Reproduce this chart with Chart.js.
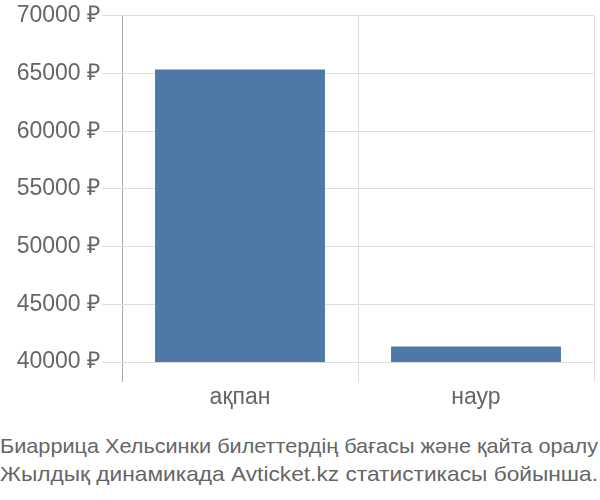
<!DOCTYPE html>
<html>
<head>
<meta charset="utf-8">
<script src="https://cdn.jsdelivr.net/npm/chart.js@4"></script>
<style>
  html, body { margin: 0; padding: 0; background: #fff; }
  #wrap { position: relative; width: 600px; height: 420px; }
  #caption {
    width: 600px;
    overflow: hidden;
    font-family: "Liberation Sans", Arial, sans-serif;
    font-size: 21px;
    line-height: 28px;
    color: #666;
    margin-top: 12px;
  }
  #caption span {
    display: inline-block;
    white-space: nowrap;
    transform-origin: 0 0;
  }
</style>
</head>
<body>
<div id="wrap"><canvas id="priceChart"></canvas></div>
<div id="caption">
  <span>Биаррица Хельсинки билеттердің бағасы және қайта оралу</span><br>
  <span>Жылдық динамикада Avticket.kz статистикасы бойынша.</span>
</div>
<script>
const months = ["ақпан", "наур"];
const prices = [65350, 41350];
const yTicks = [40000, 45000, 50000, 55000, 60000, 65000, 70000];

// stretch each caption line to the full width, like the original
document.querySelectorAll("#caption span").forEach(s => {
    const w = s.getBoundingClientRect().width;
    s.style.transform = "scaleX(" + (598 / w) + ")";
});

const ctx = document.getElementById("priceChart").getContext("2d");

new Chart(ctx, {
    type: "bar",
    data: {
        labels: months,
        datasets: [{
            data: prices,
            backgroundColor: "#4e79a7",
            borderWidth: 0,
            barPercentage: 0.72,
            categoryPercentage: 1
        }]
    },
    options: {
        responsive: true,
        maintainAspectRatio: false,
        animation: false,
        layout: { padding: { top: 14, right: 6, left: 0, bottom: 0 } },
        plugins: {
            legend: { display: false },
            tooltip: { enabled: false }
        },
        scales: {
            x: {
                offset: true,
                grid: {
                    offset: true,
                    tickLength: 20,
                    color: (c) => c.index === 0 ? "#aaa" : "#ddd"
                },
                border: { display: false },
                ticks: {
                    color: "#666",
                    font: { family: "Liberation Sans", size: 23 },
                    padding: 2
                },
                afterFit: (scale) => { scale.height = 58; }
            },
            y: {
                min: yTicks[0],
                max: yTicks[yTicks.length - 1],
                afterBuildTicks: (scale) => {
                    scale.ticks = yTicks.map(v => ({ value: v }));
                },
                grid: {
                    tickLength: 20,
                    color: "#ddd"
                },
                border: { display: false },
                ticks: {
                    color: "#666",
                    padding: 2,
                    font: { family: "Liberation Sans", size: 23 },
                    callback: (v) => v + " ₽"
                },
                afterFit: (scale) => { scale.width = 122; }
            }
        }
    }
});
</script>
</body>
</html>
